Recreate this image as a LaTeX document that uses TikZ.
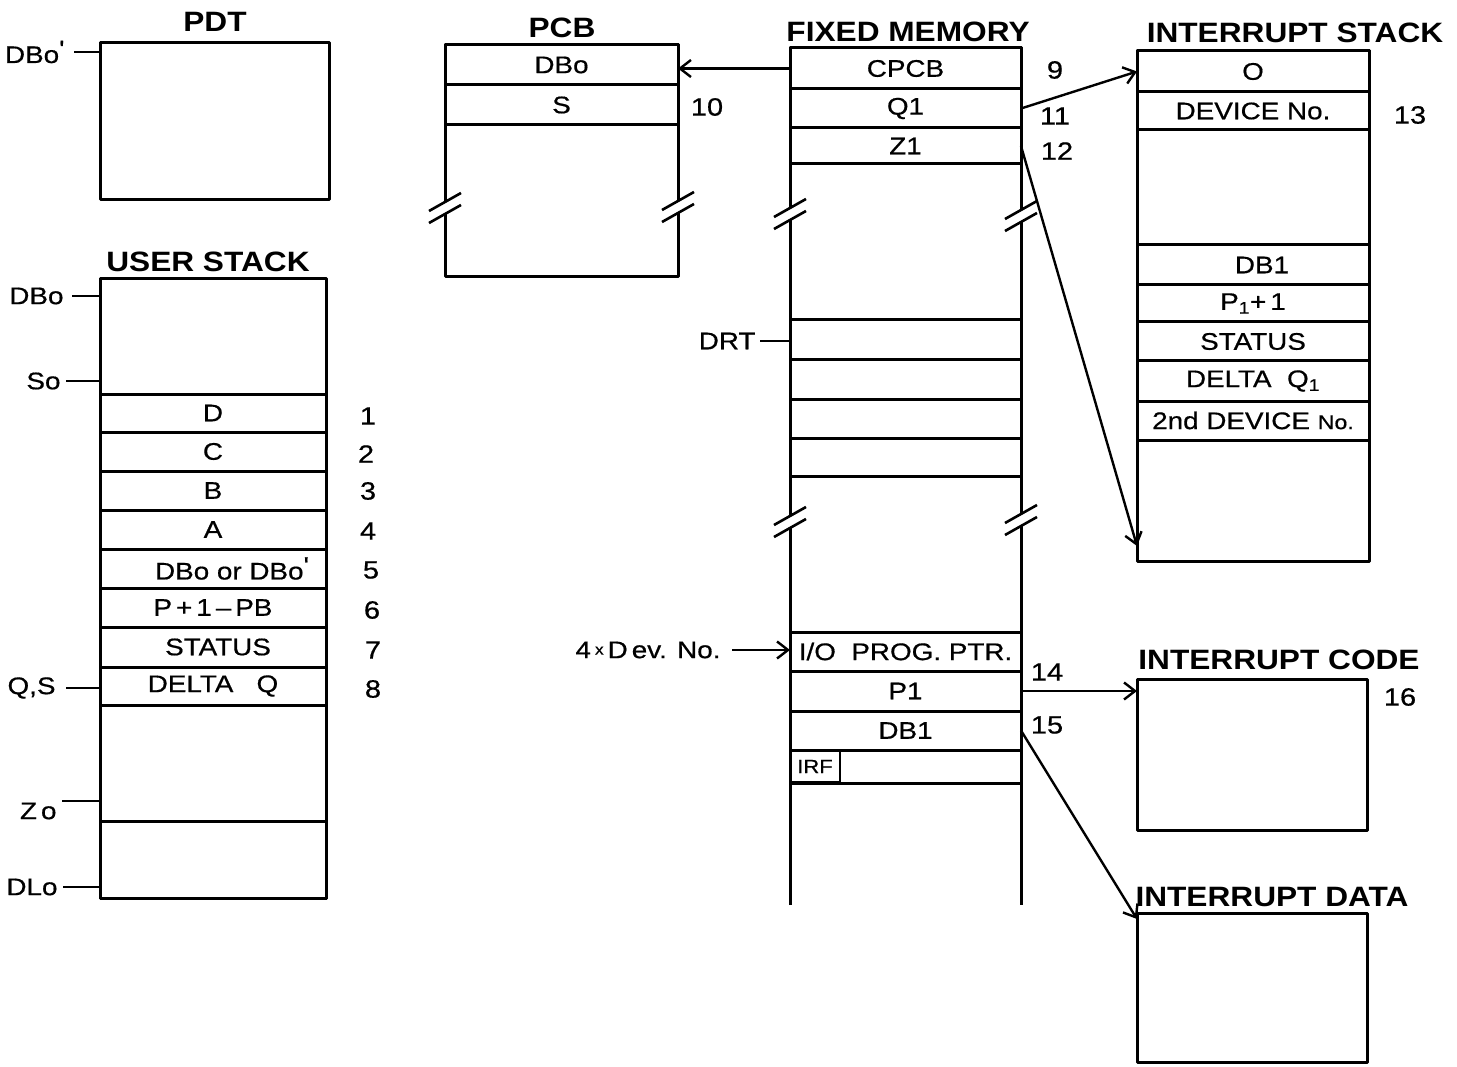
\documentclass[tikz,border=0pt]{standalone}
\usepackage{fontspec}
\setmainfont{Liberation Sans}
\newfontfamily\lett{Liberation Sans}[FakeStretch=1.16,FakeBold=0.6]
\newfontfamily\ttlfam{Liberation Sans}[FakeStretch=1.13]
\usetikzlibrary{arrows.meta}
\newcommand\cellf{\lett\fontsize{24}{26}\selectfont}
\newcommand\ttlf{\ttlfam\bfseries\fontsize{28}{30}\selectfont}
\newcommand\numf{\lett\fontsize{25}{27}\selectfont}
\newcommand\irff{\lett\fontsize{19}{21}\selectfont}
\newcommand\primemark{\raisebox{0.45ex}{'}}
\tikzset{
  box/.style={draw, inner sep=0pt, outer sep=0pt, line width=3pt},
  cell/.style={box, font=\cellf},
  ttl/.style={font=\ttlf, inner sep=0pt},
  num/.style={font=\numf, inner sep=0pt},
  side/.style={font=\cellf, inner sep=0pt},
  tick/.style={line width=2pt},
  slash/.style={line width=2.6pt},
  arr/.style={line width=2.4pt, -{Straight Barb[length=11pt,width=17pt,line width=2.4pt]}}
}
% \cellat{name}{x1}{y1}{x2}{y2}{text}
\newcommand\cellat[6]{%
  \pgfmathsetmacro\cw{#4-#2}\pgfmathsetmacro\ch{#5-#3}%
  \node[cell, anchor=north west, minimum width=\cw pt, minimum height=\ch pt] (#1) at (#2,#3) {#6};}
\newcommand\brk[2]{%
  \fill[white] (#1-16,#2+3) -- (#1+16,#2-15) -- (#1+16,#2-3) -- (#1-16,#2+15) -- cycle;
  \draw[slash] (#1-16,#2+3) -- (#1+16,#2-15);
  \draw[slash] (#1-16,#2+15) -- (#1+16,#2-3);}
\begin{document}
\begin{tikzpicture}[x=1pt,y=-1pt,line width=3pt,line join=round]
\useasboundingbox (0,0) rectangle (1457,1067);

% ---------------- PDT ----------------
\node[ttl] (tpdt) at (215,22) {PDT};
\cellat{pdt}{100}{43}{329}{200}{}
\node[side, anchor=east] (lDBp) at (66,52) {DBo\primemark};
\draw[tick] ([xshift=8pt]lDBp.east) -- (lDBp.east -| pdt.west);

% ---------------- USER STACK ----------------
\node[ttl] (tus) at (208,262) {USER STACK};
\cellat{us}{100}{279}{326}{898}{}
\cellat{ud}{100}{394}{326}{432}{D}
\cellat{uc}{100}{432}{326}{471}{C}
\cellat{ub}{100}{471}{326}{510}{B}
\cellat{ua}{100}{510}{326}{549}{A}
\cellat{udb}{100}{549}{326}{588}{\hspace{38pt}DBo or DBo\primemark}
\cellat{up}{100}{588}{326}{627}{P\,+\,1\,\textendash\,PB}
\cellat{ust}{100}{627}{326}{667}{\hspace{10pt}STATUS}
\cellat{udq}{100}{667}{326}{705}{DELTA\ \ \ Q\hspace{8pt}}
\cellat{uzl}{100}{821}{326}{898}{}
\node[side, anchor=east] (lDB) at (65,296) {DBo};
\draw[tick] ([xshift=7pt]lDB.east) -- (lDB.east -| us.west);
\node[side, anchor=east] (lS) at (62,381) {So};
\draw[tick] ([xshift=4pt]lS.east) -- (lS.east -| us.west);
\node[side, anchor=east] (lQS) at (57,688) {Q,S};
\draw[tick] ([xshift=9pt]lQS.east) -- (lQS.east -| us.west);
\node[side, anchor=east] (lZ) at (58,811) {Z\,o};
\draw[tick] ([xshift=4pt]lZ.north east) -- (lZ.north east -| us.west);
\node[side, anchor=east] (lDL) at (59,887) {DLo};
\draw[tick] ([xshift=4pt]lDL.east) -- (lDL.east -| us.west);
\node[num] (n1) at (368,416) {1};
\node[num] (n2) at (366,454) {2};
\node[num] (n3) at (368,491) {3};
\node[num] (n4) at (368,531) {4};
\node[num] (n5) at (371,570) {5};
\node[num] (n6) at (372,610) {6};
\node[num] (n7) at (373,650) {7};
\node[num] (n8) at (373,689) {8};

% ---------------- PCB ----------------
\node[ttl] (tpcb) at (562,28) {PCB};
\cellat{pcb}{445}{45}{678}{277}{}
\cellat{pcbdb}{445}{45}{678}{85}{DBo}
\cellat{pcbs}{445}{85}{678}{125}{S}
\brk{445}{208}
\brk{678}{207}
\node[num] (n10) at (707,107) {10};

% ---------------- FIXED MEMORY ----------------
\node[ttl] (tfm) at (908,32) {FIXED MEMORY};
\draw (790,905) -- (790,48) -- (1021,48) -- (1021,905);
\cellat{cpcb}{790}{48}{1021}{89}{CPCB}
\cellat{q1}{790}{89}{1021}{128}{Q1}
\cellat{z1}{790}{128}{1021}{164}{Z1}
\cellat{drt1}{790}{320}{1021}{360}{}
\cellat{drt2}{790}{360}{1021}{399}{}
\cellat{drt3}{790}{399}{1021}{438}{}
\cellat{drt4}{790}{438}{1021}{476}{}
\cellat{io}{790}{632}{1021}{671}{I/O\ \ PROG. PTR.}
\cellat{pi}{790}{671}{1021}{711}{P1}
\cellat{dbi}{790}{711}{1021}{750}{DB1}
\cellat{irfrow}{790}{750}{1021}{783}{}
\node[draw, line width=2pt, inner sep=0pt, outer sep=0pt, font=\irff, anchor=north west,
      minimum width=50pt, minimum height=31pt] (irf) at (790,751) {IRF};
\brk{790}{214}
\brk{1021}{216}
\brk{790}{522}
\brk{1021}{520}
\node[side, anchor=east] (lDRT) at (757,341) {DRT};
\draw[tick] ([xshift=3pt]lDRT.east) -- (lDRT.east -| drt1.west);
\node[side, anchor=east] (ldev) at (722,650) {4\,{\fontsize{15}{15}\selectfont\raisebox{0.45ex}{x}}\,D\,ev. No.};
\draw[arr] ([xshift=10pt]ldev.east) -- (ldev.east -| io.west);
\node[num] (n9) at (1055,70) {9};
\node[num] (n11) at (1055,116) {11};
\node[num] (n12) at (1057,151) {12};
\node[num] (n14) at (1047,672) {14};
\node[num] (n15) at (1047,725) {15};

% ---------------- INTERRUPT STACK ----------------
\node[ttl] (tis) at (1295,33) {INTERRUPT STACK};
\cellat{is}{1137}{51}{1369}{561}{}
\cellat{is0}{1137}{51}{1369}{92}{O}
\cellat{isdev}{1137}{92}{1369}{130}{DEVICE No.}
\cellat{isdb}{1137}{245}{1369}{285}{\hspace{18pt}DB1}
\cellat{isp}{1137}{285}{1369}{322}{P\textsubscript{1}+\,1}
\cellat{isst}{1137}{322}{1369}{361}{STATUS}
\cellat{isdq}{1137}{361}{1369}{401}{DELTA\ \ Q\textsubscript{1}\hspace{14pt}}
\cellat{is2}{1137}{401}{1369}{440}{2nd DEVICE {\fontsize{20}{22}\selectfont No.}}
\node[num] (n13) at (1410,115) {13};

% ---------------- INTERRUPT CODE / DATA ----------------
\node[ttl] (tic) at (1279,660) {INTERRUPT CODE};
\cellat{ic}{1137}{679}{1367}{830}{}
\node[num] (n16) at (1400,697) {16};
\node[ttl] (tid) at (1272,897) {INTERRUPT DATA};
\cellat{idat}{1137}{913}{1367}{1062}{}

% ---------------- CONNECTORS ----------------
\coordinate (zend) at ([yshift=15pt]is.south west);
\coordinate (dend) at ([yshift=-6pt]idat.north west);
\draw[arr] (cpcb.west) -- (cpcb.west -| pcbdb.east);
\draw[arr] (q1.east) -- (is0.west);
\draw[arr] (z1.east) -- (zend);
\draw[arr] (pi.east) -- (pi.east -| ic.west);
\draw[arr] (dbi.east) -- (dend);
\end{tikzpicture}
\end{document}
